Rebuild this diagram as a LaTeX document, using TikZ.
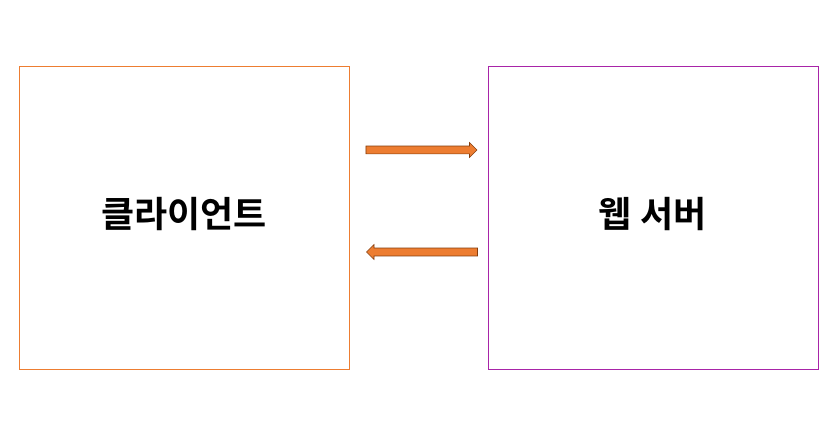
\documentclass[tikz,border=0pt]{standalone}
\usepackage{fontspec}
\newfontfamily\kofont{Noto Sans CJK KR Bold}
\usetikzlibrary{shapes.arrows}
\definecolor{boxorange}{RGB}{237,125,49}
\definecolor{boxpurple}{RGB}{168,36,168}
\definecolor{arrowedge}{RGB}{132,60,12}
\tikzset{
  sidebox/.style={rectangle, minimum width=330pt, minimum height=303pt, inner sep=0pt, line width=0.8pt},
  boxlabel/.style={font=\kofont\fontsize{36}{40}\selectfont},
  flowarrow/.style={single arrow, fill=boxorange, draw=arrowedge, line width=0.6pt,
    minimum height=111pt, minimum width=15pt, single arrow head extend=3.5pt,
    single arrow head indent=0pt, inner sep=3.6pt}
}
\begin{document}
\begin{tikzpicture}[x=1pt,y=1pt]
\useasboundingbox (0,0) rectangle (837,428);
\node[sidebox, draw=boxorange] (client) at (184,210.5) {};
\node[sidebox, draw=boxpurple] (server) at (653,210.5) {};
\node[boxlabel] (clientlabel) at (184,214) {클라이언트};
\node[boxlabel] (serverlabel) at (652.5,214) {웹 서버};
\node[flowarrow] (request) at (419.5,278) {};
\node[flowarrow, shape border rotate=180] (response) at (424,176) {};
\end{tikzpicture}
\end{document}
